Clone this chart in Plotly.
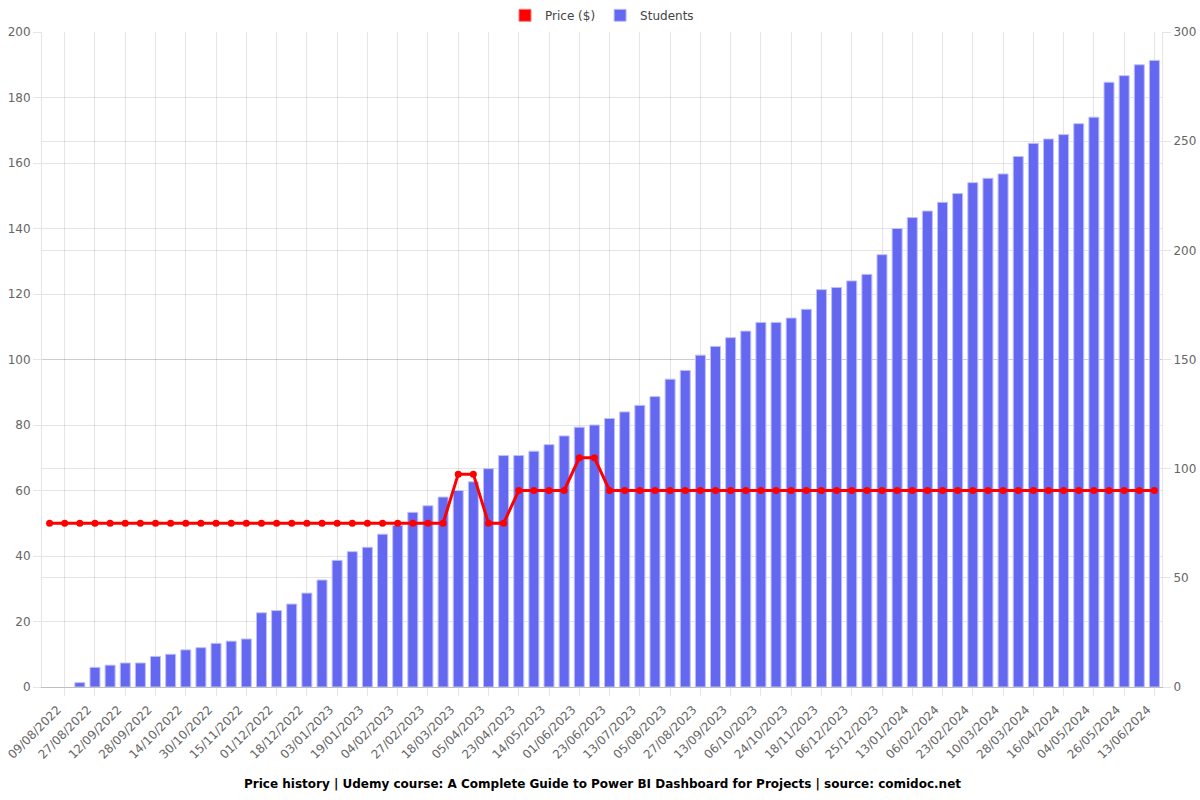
import plotly.graph_objects as go

tick_labels = ["09/08/2022", "27/08/2022", "12/09/2022", "28/09/2022", "14/10/2022", "30/10/2022",
               "15/11/2022", "01/12/2022", "18/12/2022", "03/01/2023", "19/01/2023", "04/02/2023",
               "27/02/2023", "18/03/2023", "05/04/2023", "23/04/2023", "14/05/2023", "01/06/2023",
               "23/06/2023", "13/07/2023", "05/08/2023", "27/08/2023", "13/09/2023", "06/10/2023",
               "24/10/2023", "18/11/2023", "06/12/2023", "25/12/2023", "13/01/2024", "06/02/2024",
               "23/02/2024", "10/03/2024", "28/03/2024", "16/04/2024", "04/05/2024", "26/05/2024",
               "13/06/2024"]

price = [50] * 27 + [65, 65, 50, 50, 60, 60, 60, 60, 70, 70] + [60] * 37

students = [None, None, 2, 9, 10, 11, 11, 14, 15, 17, 18, 20, 21, 22, 34, 35, 38, 43, 49, 58,
            62, 64, 70, 74, 80, 83, 87, 90, 94, 100, 106, 106, 108, 111, 115, 119, 120, 123, 126, 129,
            133, 141, 145, 152, 156, 160, 163, 167, 167, 169, 173, 182, 183, 186, 189, 198, 210, 215, 218, 222,
            226, 231, 233, 235, 243, 249, 251, 253, 258, 261, 277, 280, 285, 287]

idx = list(range(len(price)))
label_pos = idx[::2]
minor_pos = idx[1::2]

title_text = "Price history | Udemy course: A Complete Guide to Power BI Dashboard for Projects | source: comidoc.net"

RED = "rgb(255,0,0)"
BLUE = "rgb(100,103,240)"
GRID = "rgba(0,0,0,0.1)"
FONT = "DejaVu Sans"

fig = go.Figure()

# legend proxy for price (box style legend)
fig.add_trace(go.Bar(x=[None], y=[None], name="Price ($)", marker=dict(color=RED, line=dict(color="rgba(255,120,120,1)", width=1)),
                     yaxis="y2", legendgroup="price", showlegend=True))

fig.add_trace(go.Bar(x=idx, y=students, name="Students", yaxis="y", width=0.66,
                     marker=dict(color=BLUE, line=dict(color="rgba(190,192,250,1)", width=1)),
                     legendgroup="students"))

fig.add_trace(go.Scatter(x=idx, y=price, name="Price ($)", yaxis="y2", mode="lines+markers",
                         line=dict(color=RED, width=3), marker=dict(color=RED, size=7),
                         legendgroup="price", showlegend=False))

fig.update_layout(
    width=1200, height=800,
    margin=dict(l=42, r=38, t=32, b=113, autoexpand=False),
    paper_bgcolor="white", plot_bgcolor="white",
    font=dict(family=FONT, size=12, color="#666"),
    barmode="overlay",
    showlegend=True,
    legend=dict(orientation="h", x=0.5, xanchor="center", yref="container", y=0.999, yanchor="top",
                font=dict(family=FONT, size=12, color="#444"), traceorder="normal"),
    xaxis=dict(range=[-0.5, len(idx) - 0.5], tickmode="array", tickvals=label_pos, ticktext=tick_labels,
               tickangle=-45, showgrid=False, ticks="", showline=True, linecolor="rgba(0,0,0,0.25)",
               zeroline=False, automargin=False, ticklabeloverflow="allow", ticklabelshift=8,
               ticklabelstandoff=10, tickfont=dict(family=FONT, size=12, color="#666"),
               minor=dict(tickmode="array", tickvals=minor_pos, showgrid=True, gridcolor=GRID,
                          ticks="outside", ticklen=8, tickcolor=GRID)),
    yaxis=dict(side="right", range=[0, 300], dtick=50, showgrid=True, gridcolor=GRID, zeroline=False,
               ticks="outside", ticklen=8, tickcolor=GRID, showline=True, linecolor=GRID, automargin=False,
               tickfont=dict(family=FONT, size=12, color="#666")),
    yaxis2=dict(side="left", overlaying="y", range=[0, 200], dtick=20, showgrid=True, gridcolor=GRID,
                zeroline=False, ticks="outside", ticklen=8, tickcolor=GRID, showline=True, linecolor=GRID,
                automargin=False, tickfont=dict(family=FONT, size=12, color="#666")),
    annotations=[dict(text="<b>" + title_text + "</b>", xref="paper", yref="paper", x=0.5, y=-0.134,
                      xanchor="center", yanchor="top", showarrow=False,
                      font=dict(family=FONT, size=12, color="#000"))],
)

fig.write_html("out.html")
